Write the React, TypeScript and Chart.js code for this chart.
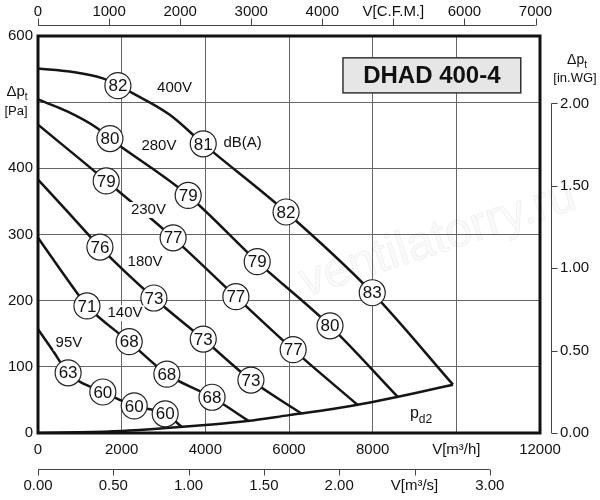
import React, { useEffect, useRef } from 'react';
import { Chart, registerables } from 'chart.js';

Chart.register(...registerables);

const FONT = '"Liberation Sans", Arial, Helvetica, sans-serif';

// ---- axis ranges ----
const FLOW_MAX = 12000; // m3/h
const PRESS_MAX = 600; // Pa
const M3H_PER_CFM = 1.699;
const M3H_PER_M3S = 3600;
const PA_PER_INWG = 249.089;

// ---- secondary axis tick values ----
const cfmTicks = [0, 1000, 2000, 3000, 4000, 5000, 6000, 7000];
const m3sTicks = [0, 0.5, 1.0, 1.5, 2.0, 2.5, 3.0];
const inwgTicks = [0, 0.5, 1.0, 1.5, 2.0];

// ---- fan curves: [V m3/h, Δpt Pa] ----
const curve400V = [[0, 551], [800, 546], [1550, 536], [1910, 525], [2250, 514], [3150, 481], [3950, 437], [5930, 334], [7990, 212], [9920, 73]];
const curve280V = [[0, 504], [700, 486], [1410, 461], [1720, 445], [3590, 359], [5240, 259], [6980, 162], [8610, 54]];
const curve230V = [[0, 466], [1630, 381], [3230, 295], [4730, 206], [6100, 126], [7650, 42]];
const curve180V = [[0, 383], [700, 335], [1480, 281], [2770, 204], [3950, 142], [5090, 80], [6310, 29]];
const curve140V = [[0, 295], [930, 212], [1170, 192], [2180, 138], [3080, 89], [4160, 54], [5040, 18]];
const curve95V = [[0, 157], [350, 125], [720, 91], [1550, 62], [2300, 41], [3040, 29], [3440, 9]];
const curvePd2 = [[0, 0], [1000, 1], [2000, 3], [3000, 7], [4000, 12], [5000, 18], [6000, 27], [7000, 36], [8000, 47], [9000, 60], [9920, 73]];

// ---- sound level markers: [V m3/h, Δpt Pa, dB(A)] ----
const markers400V = [[1910, 525, 82], [3950, 437, 81], [5930, 334, 82], [7990, 212, 83]];
const markers280V = [[1720, 445, 80], [3590, 359, 79], [5240, 259, 79], [6980, 162, 80]];
const markers230V = [[1630, 381, 79], [3230, 295, 77], [4730, 206, 77], [6100, 126, 77]];
const markers180V = [[1480, 281, 76], [2770, 204, 73], [3950, 142, 73], [5090, 80, 73]];
const markers140V = [[1170, 192, 71], [2180, 138, 68], [3080, 89, 68], [4160, 54, 68]];
const markers95V = [[720, 91, 63], [1550, 62, 60], [2300, 41, 60], [3040, 29, 60]];

// ---- text labels in the plot: [text, V m3/h, Δpt Pa] ----
const curveLabels = [
  ['400V', 3265, 522],
  ['280V', 2890, 434],
  ['230V', 2640, 337],
  ['180V', 2560, 259],
  ['140V', 2080, 181],
  ['95V', 740, 136],
  ['dB(A)', 4890, 439],
];
const pd2Label = [8890, 23];
const titleText = 'DHAD 400-4';
const titleBox = [7290, 567, 11540, 514]; // x1, y1, x2, y2 in data units
const watermark = ['ventilatorry.ru', 9560, 292];

const curves = [curve400V, curve280V, curve230V, curve180V, curve140V, curve95V, curvePd2];
const markerSets = [markers400V, markers280V, markers230V, markers180V, markers140V, markers95V];

function drawDp(ctx: CanvasRenderingContext2D, cx: number, base: number, size: number, sub: number) {
  ctx.font = `${size}px ${FONT}`;
  const w1 = ctx.measureText('Δp').width;
  ctx.font = `${sub}px ${FONT}`;
  const w2 = ctx.measureText('t').width;
  const start = cx - (w1 + w2) / 2;
  ctx.textAlign = 'left';
  ctx.textBaseline = 'alphabetic';
  ctx.font = `${size}px ${FONT}`;
  ctx.fillText('Δp', start, base);
  ctx.font = `${sub}px ${FONT}`;
  ctx.fillText('t', start + w1, base + 4);
}

const decorPlugin = {
  id: 'decor',
  beforeDatasetsDraw(chart: any) {
    const { ctx } = chart;
    const x = chart.scales.x;
    const y = chart.scales.y;
    ctx.save();
    ctx.translate(x.getPixelForValue(watermark[1] as number), y.getPixelForValue(watermark[2] as number));
    ctx.rotate((-18 * Math.PI) / 180);
    ctx.font = `48px ${FONT}`;
    ctx.textAlign = 'center';
    ctx.textBaseline = 'middle';
    ctx.fillStyle = 'rgba(0,0,0,0.02)';
    ctx.fillText(watermark[0] as string, 0, 0);
    ctx.strokeStyle = 'rgba(0,0,0,0.06)';
    ctx.lineWidth = 1;
    ctx.strokeText(watermark[0] as string, 0, 0);
    ctx.restore();
  },
  afterDatasetsDraw(chart: any) {
    const { ctx, chartArea: a } = chart;
    const x = chart.scales.x;
    const y = chart.scales.y;
    ctx.save();
    ctx.fillStyle = '#111';

    // numbers in circles
    ctx.font = `17px ${FONT}`;
    ctx.textAlign = 'center';
    ctx.textBaseline = 'middle';
    chart.data.datasets.forEach((ds: any, i: number) => {
      if (!ds.dbLabels) return;
      const meta = chart.getDatasetMeta(i);
      meta.data.forEach((pt: any, j: number) => {
        ctx.fillText(String(ds.dbLabels[j]), pt.x, pt.y + 1);
      });
    });

    // curve labels (on white background)
    ctx.font = `15px ${FONT}`;
    curveLabels.forEach(([t, vx, vy]) => {
      const lx = x.getPixelForValue(vx as number);
      const lyy = y.getPixelForValue(vy as number);
      const w = ctx.measureText(t as string).width;
      ctx.fillStyle = '#fff';
      ctx.fillRect(lx - w / 2 - 2, lyy - 8, w + 4, 16);
      ctx.fillStyle = '#111';
      ctx.fillText(t as string, lx, lyy);
    });

    // p_d2
    ctx.textAlign = 'left';
    ctx.textBaseline = 'alphabetic';
    const px = x.getPixelForValue(pd2Label[0]);
    const py = y.getPixelForValue(pd2Label[1]);
    ctx.font = `16px ${FONT}`;
    ctx.fillText('p', px, py);
    const pw = ctx.measureText('p').width;
    ctx.font = `12px ${FONT}`;
    ctx.fillText('d2', px + pw, py + 5);

    // title box
    const bx1 = x.getPixelForValue(titleBox[0]);
    const by1 = y.getPixelForValue(titleBox[1]);
    const bx2 = x.getPixelForValue(titleBox[2]);
    const by2 = y.getPixelForValue(titleBox[3]);
    ctx.fillStyle = '#e6e6e6';
    ctx.fillRect(bx1, by1, bx2 - bx1, by2 - by1);
    ctx.strokeStyle = '#333';
    ctx.lineWidth = 1.5;
    ctx.strokeRect(bx1, by1, bx2 - bx1, by2 - by1);
    ctx.fillStyle = '#111';
    ctx.font = `bold 24px ${FONT}`;
    ctx.textAlign = 'center';
    ctx.textBaseline = 'middle';
    ctx.fillText(titleText, (bx1 + bx2) / 2, (by1 + by2) / 2 + 1);

    // plot frame
    ctx.strokeStyle = '#111';
    ctx.lineWidth = 3;
    ctx.strokeRect(a.left, a.top, a.right - a.left, a.bottom - a.top);

    // secondary axes lines + tick marks
    ctx.strokeStyle = '#444';
    ctx.lineWidth = 1;
    const top = chart.scales.xTop;
    const ly = Math.round(top.bottom - 11) + 0.5;
    ctx.beginPath();
    ctx.moveTo(top.getPixelForValue(0), ly);
    ctx.lineTo(top.getPixelForValue(top.ticks[top.ticks.length - 1].value), ly);
    top.ticks.forEach((t: any) => {
      const tx = Math.round(top.getPixelForValue(t.value)) + 0.5;
      ctx.moveTo(tx, ly);
      ctx.lineTo(tx, ly - 7);
    });
    const b2 = chart.scales.x2;
    const ly2 = Math.round(b2.top + 1) + 0.5;
    ctx.moveTo(b2.getPixelForValue(0), ly2);
    ctx.lineTo(b2.getPixelForValue(b2.ticks[b2.ticks.length - 1].value), ly2);
    b2.ticks.forEach((t: any) => {
      const tx = Math.round(b2.getPixelForValue(t.value)) + 0.5;
      ctx.moveTo(tx, ly2);
      ctx.lineTo(tx, ly2 + 6);
    });
    const r = chart.scales.yR;
    const lx = Math.round(r.left + 11) + 0.5;
    ctx.moveTo(lx, r.getPixelForValue(0));
    ctx.lineTo(lx, r.getPixelForValue(r.ticks[r.ticks.length - 1].value));
    r.ticks.forEach((t: any) => {
      const ty = Math.round(r.getPixelForValue(t.value)) + 0.5;
      ctx.moveTo(lx, ty);
      ctx.lineTo(lx + 6, ty);
    });
    ctx.stroke();

    // axis titles Δpt
    ctx.fillStyle = '#111';
    const y500 = y.getPixelForValue(500);
    drawDp(ctx, 17, y500 - 6.5, 15, 10);
    ctx.font = `13px ${FONT}`;
    ctx.textAlign = 'center';
    ctx.textBaseline = 'middle';
    ctx.fillText('[Pa]', 16, y500 + 9);
    const yr = r.getPixelForValue(2.25);
    drawDp(ctx, 577, yr + 1.5, 14, 10);
    ctx.font = `13px ${FONT}`;
    ctx.textAlign = 'center';
    ctx.textBaseline = 'middle';
    ctx.fillText('[in.WG]', 575, yr + 16.5);

    ctx.restore();
  },
};

const tickFont = { size: 15, family: FONT };

export default function App() {
  const ref = useRef<HTMLCanvasElement | null>(null);

  useEffect(() => {
    if (!ref.current) return;
    Chart.defaults.font.family = FONT;
    Chart.defaults.color = '#111';

    const datasets: any[] = [];
    curves.forEach((c) => {
      datasets.push({
        type: 'line',
        data: c.map(([vx, vy]) => ({ x: vx, y: vy })),
        borderColor: '#151515',
        borderWidth: 2.5,
        pointRadius: 0,
        fill: false,
        cubicInterpolationMode: 'monotone',
        xAxisID: 'x',
        yAxisID: 'y',
        order: 2,
      });
    });
    markerSets.forEach((m) => {
      datasets.push({
        type: 'line',
        data: m.map(([vx, vy]) => ({ x: vx, y: vy })),
        dbLabels: m.map((p) => p[2]),
        showLine: false,
        pointRadius: 13,
        pointStyle: 'circle',
        pointBackgroundColor: '#fff',
        pointBorderColor: '#222',
        pointBorderWidth: 1.2,
        xAxisID: 'x',
        yAxisID: 'y',
        order: 1,
      });
    });

    const chart = new Chart(ref.current, {
      type: 'line',
      data: { datasets },
      options: {
        animation: false,
        responsive: false,
        devicePixelRatio: 1,
        events: [],
        layout: { padding: 0 },
        plugins: { legend: { display: false }, tooltip: { enabled: false } },
        scales: {
          x: {
            type: 'linear',
            position: 'bottom',
            weight: 0,
            min: 0,
            max: FLOW_MAX,
            grid: { color: '#666', lineWidth: 1, drawTicks: false },
            border: { display: false },
            ticks: {
              stepSize: 2000,
              padding: 8,
              autoSkip: false,
              maxRotation: 0,
              font: tickFont,
              color: '#111',
              callback: (v: any) => (v === 10000 ? 'V[m³/h]' : String(v)),
            },
            afterFit: (s: any) => { s.height = 35; },
          },
          x2: {
            type: 'linear',
            position: 'bottom',
            weight: 1,
            min: 0,
            max: FLOW_MAX / M3H_PER_M3S,
            grid: { display: false, drawTicks: false },
            border: { display: false },
            ticks: {
              padding: 9,
              autoSkip: false,
              maxRotation: 0,
              font: tickFont,
              color: '#111',
              callback: (v: any) => (Math.abs(v - 2.5) < 1e-6 ? 'V[m³/s]' : Number(v).toFixed(2)),
            },
            afterBuildTicks: (s: any) => { s.ticks = m3sTicks.map((v) => ({ value: v })); },
            afterFit: (s: any) => { s.height = 32; },
          },
          xTop: {
            type: 'linear',
            position: 'top',
            min: 0,
            max: FLOW_MAX / M3H_PER_CFM,
            grid: { display: false, drawTicks: false },
            border: { display: false },
            ticks: {
              padding: 15,
              autoSkip: false,
              maxRotation: 0,
              font: tickFont,
              color: '#111',
              callback: (v: any) => (v === 5000 ? 'V[C.F.M.]' : String(v)),
            },
            afterBuildTicks: (s: any) => { s.ticks = cfmTicks.map((v) => ({ value: v })); },
            afterFit: (s: any) => { s.height = 36; },
          },
          y: {
            type: 'linear',
            position: 'left',
            min: 0,
            max: PRESS_MAX,
            grid: { color: '#666', lineWidth: 1, drawTicks: false },
            border: { display: false },
            ticks: {
              stepSize: 100,
              padding: 5,
              autoSkip: false,
              font: tickFont,
              color: '#111',
              callback: (v: any) => (v === 500 ? '' : String(v)),
            },
            afterFit: (s: any) => { s.width = 38; },
          },
          yR: {
            type: 'linear',
            position: 'right',
            min: 0,
            max: PRESS_MAX / PA_PER_INWG,
            grid: { display: false, drawTicks: false },
            border: { display: false },
            ticks: {
              padding: 20,
              autoSkip: false,
              font: tickFont,
              color: '#111',
              callback: (v: any) => Number(v).toFixed(2),
            },
            afterBuildTicks: (s: any) => { s.ticks = inwgTicks.map((v) => ({ value: v })); },
            afterFit: (s: any) => { s.width = 60; },
          },
        },
      } as any,
      plugins: [decorPlugin as any],
    });
    return () => chart.destroy();
  }, []);

  return (
    <div style={{ position: 'fixed', left: 0, top: 0, width: 600, height: 500, background: '#fff' }}>
      <canvas ref={ref} width={600} height={500} />
    </div>
  );
}
